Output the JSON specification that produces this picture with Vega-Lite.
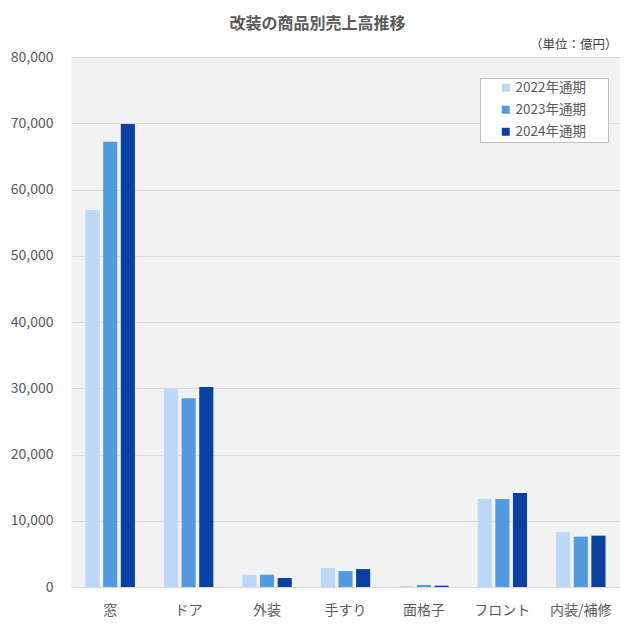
{
  "$schema": "https://vega.github.io/schema/vega-lite/v6.json",
  "width": 549,
  "height": 530,
  "autosize": "none",
  "padding": {"left": 71, "top": 57, "right": 14, "bottom": 47},
  "background": "white",
  "title": {
    "text": "改装の商品別売上高推移",
    "fontSize": 16,
    "fontWeight": "bold",
    "color": "#595959",
    "font": "Noto Sans CJK JP",
    "anchor": "middle",
    "dx": -28,
    "offset": 6
  },
  "data": {
    "values": [
      {"item": "窓", "year": "2022年通期", "sales": 56900},
      {"item": "窓", "year": "2023年通期", "sales": 67200},
      {"item": "窓", "year": "2024年通期", "sales": 69900},
      {"item": "ドア", "year": "2022年通期", "sales": 29950},
      {"item": "ドア", "year": "2023年通期", "sales": 28500},
      {"item": "ドア", "year": "2024年通期", "sales": 30200},
      {"item": "外装", "year": "2022年通期", "sales": 1860},
      {"item": "外装", "year": "2023年通期", "sales": 1860},
      {"item": "外装", "year": "2024年通期", "sales": 1360},
      {"item": "手すり", "year": "2022年通期", "sales": 2870},
      {"item": "手すり", "year": "2023年通期", "sales": 2400},
      {"item": "手すり", "year": "2024年通期", "sales": 2700},
      {"item": "面格子", "year": "2022年通期", "sales": 150},
      {"item": "面格子", "year": "2023年通期", "sales": 300},
      {"item": "面格子", "year": "2024年通期", "sales": 200},
      {"item": "フロント", "year": "2022年通期", "sales": 13300},
      {"item": "フロント", "year": "2023年通期", "sales": 13300},
      {"item": "フロント", "year": "2024年通期", "sales": 14200},
      {"item": "内装/補修", "year": "2022年通期", "sales": 8300},
      {"item": "内装/補修", "year": "2023年通期", "sales": 7600},
      {"item": "内装/補修", "year": "2024年通期", "sales": 7750}
    ]
  },
  "mark": {"type": "bar"},
  "encoding": {
    "x": {
      "field": "item",
      "type": "nominal",
      "sort": null,
      "title": null,
      "scale": {"paddingInner": 0.37, "paddingOuter": 0.185},
      "axis": {
        "labelAngle": 0,
        "labelFontSize": 14,
        "labelColor": "#595959",
        "labelPadding": 16,
        "ticks": false,
        "domain": true,
        "domainColor": "#d9d9d9"
      }
    },
    "xOffset": {
      "field": "year",
      "type": "nominal",
      "scale": {"paddingInner": 0.2, "paddingOuter": 0}
    },
    "y": {
      "field": "sales",
      "type": "quantitative",
      "scale": {"domain": [0, 80000], "nice": false},
      "title": "（単位：億円）",
      "axis": {
        "values": [0, 10000, 20000, 30000, 40000, 50000, 60000, 70000, 80000],
        "format": ",.0f",
        "labelFontSize": 14,
        "labelColor": "#595959",
        "labelPadding": 18,
        "ticks": false,
        "domain": false,
        "gridColor": "#d9d9d9",
        "titleAngle": 0,
        "titleX": 546,
        "titleY": -13,
        "titleAlign": "right",
        "titleBaseline": "middle",
        "titleFontSize": 12.5,
        "titleFontWeight": "normal",
        "titleColor": "#404040"
      }
    },
    "color": {
      "field": "year",
      "type": "nominal",
      "scale": {"range": ["#bdd7f7", "#539ade", "#0b3fa0"]},
      "legend": {
        "title": "\u00a0",
        "titleOrient": "right",
        "titlePadding": 19,
        "titleFontSize": 12,
        "orient": "none",
        "legendX": 409,
        "legendY": 21,
        "fillColor": "white",
        "strokeColor": "#bfbfbf",
        "padding": 3,
        "symbolType": "square",
        "symbolSize": 64,
        "symbolOffset": 16,
        "labelFontSize": 13.5,
        "labelColor": "#595959",
        "rowPadding": 7,
        "labelOffset": 3
      }
    }
  },
  "config": {
    "font": "Noto Sans CJK JP",
    "view": {"fill": "#f2f2f2", "stroke": null}
  }
}
